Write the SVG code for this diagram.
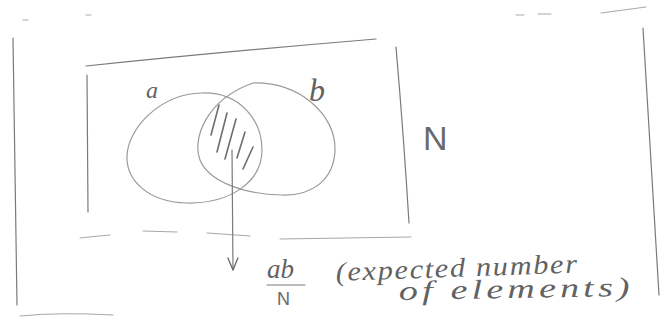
<svg xmlns="http://www.w3.org/2000/svg" width="662" height="320" viewBox="0 0 662 320">
<defs>
<style>
.pen{fill:none;stroke:#7a7a7a;stroke-width:1.2;stroke-linecap:round;stroke-linejoin:round}
.faint{fill:none;stroke:#a8a8a8;stroke-width:1;stroke-linecap:round}
.circ{fill:none;stroke:#9a9a9a;stroke-width:1.2}
.hatch{fill:none;stroke:#6e6e6e;stroke-width:1.6;stroke-linecap:round}
.hand{font-family:"Liberation Serif","DejaVu Serif",serif;font-style:italic;fill:#626262}
.sans{font-family:"Liberation Sans","DejaVu Sans",sans-serif;fill:#6a6a6a}
</style>
<marker id="vhead" markerUnits="userSpaceOnUse" markerWidth="20" markerHeight="20" refX="0" refY="0" orient="auto" overflow="visible">
<path d="M-12,-5 L0,0 L-12,5" fill="none" stroke="#666" stroke-width="1.3" stroke-linecap="round" stroke-linejoin="round"/>
</marker>
</defs>
<rect width="662" height="320" fill="#ffffff"/>

<g id="page-frame">
<path class="pen" d="M13,38 Q15,170 17,305"/>
<path class="pen" d="M643,28 Q651,160 659,295"/>
<path class="faint" d="M601,13 L646,7"/>
<path class="faint" d="M516,15 L524,15 M538,14 L551,14"/>
<path class="faint" d="M23,20 L28,20 M86,15 L91,15"/>
<path class="faint" d="M20,316 Q60,312 113,315"/>
</g>

<g id="universe-N">
<path class="pen" d="M86,66 Q220,52 376,39"/>
<path class="pen" d="M87,75 L88,212"/>
<path class="faint" d="M80,238 Q88,237 110,235 M143,231 L177,232 M207,233 L250,236 M280,239 L411,237"/>
<path class="pen" d="M396,47 Q404,140 409,223"/>
<text class="sans" x="423" y="150" font-size="34">N</text>
</g>

<g id="set-a">
<path class="circ" d="M202,93 C240,92 262,120 262,150 C262,182 230,204 186,203 C148,202 126,180 127,156 C128,128 160,94 202,93 Z"/>
<text class="hand" x="146" y="98" font-size="24">a</text>
</g>

<g id="set-b">
<path class="circ" d="M253,83 C300,82 336,115 335,150 C334,180 312,196 282,195 C240,194 208,180 200,160 C192,140 205,100 253,83 Z"/>
<text class="hand" x="309" y="101" font-size="32">b</text>
</g>

<g id="intersection">
<path class="hatch" d="M219,105 L211,135 M227,113 L217,152 M236,119 L225,159 M245,132 L237,158 M253,147 L243,169"/>
</g>

<g id="connectors">
<path class="pen" d="M232,150 L233,270" marker-end="url(#vhead)" stroke="#666"/>
</g>

<g id="label-expected">
<text class="hand" x="267" y="278" font-size="27">ab</text>
<path class="pen" d="M267,285 L305,285" stroke="#666"/>
<text class="sans" x="277" y="305" font-size="18">N</text>
<text class="hand" x="336" y="281" font-size="27" letter-spacing="1.5" textLength="243" lengthAdjust="spacingAndGlyphs" transform="rotate(-2 336 281)">(expected number</text>
<text class="hand" x="399" y="300" font-size="27" letter-spacing="3" textLength="235" lengthAdjust="spacingAndGlyphs" transform="rotate(-1 399 300)">of elements)</text>
</g>
</svg>
